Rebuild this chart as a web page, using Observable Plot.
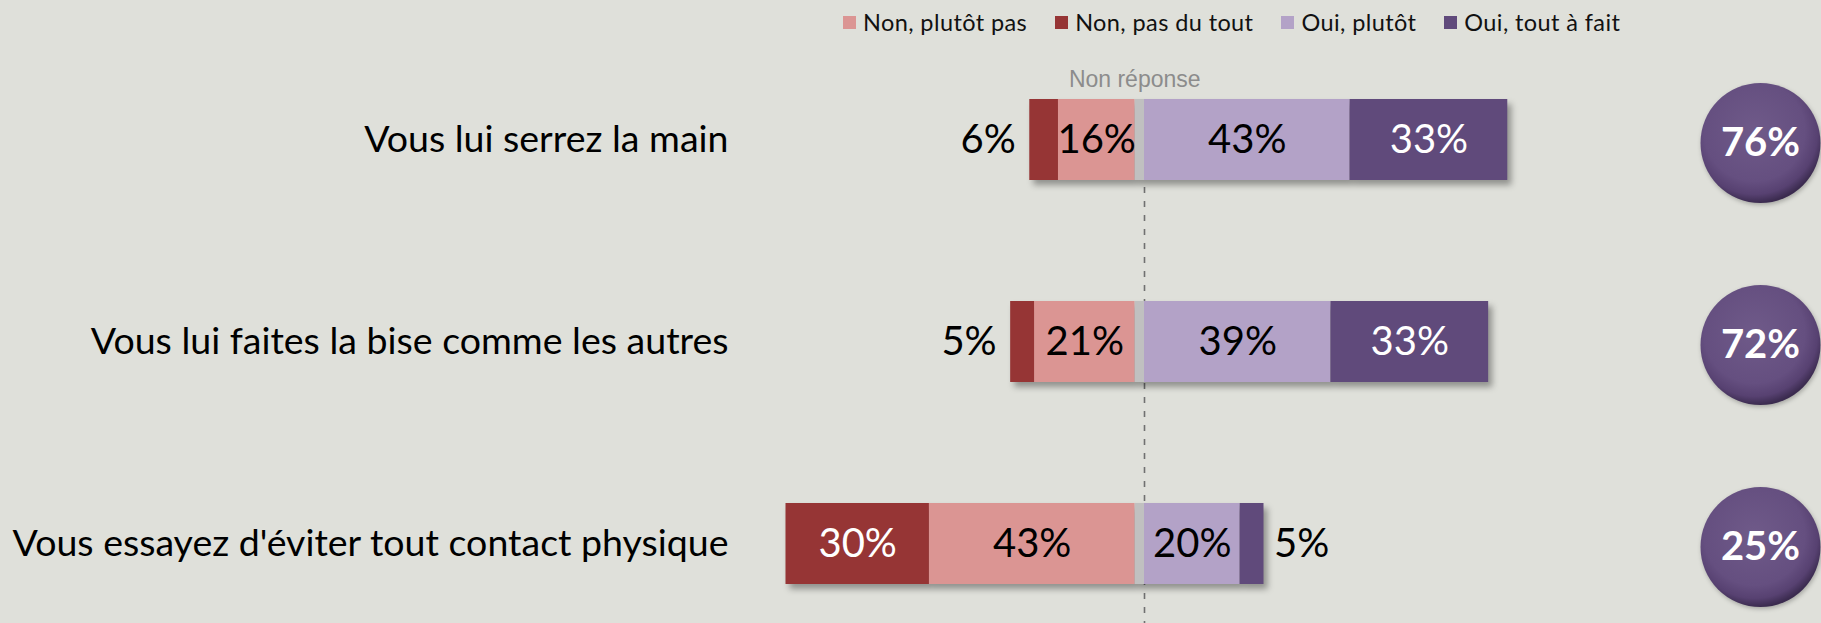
<!DOCTYPE html>
<html>
<head>
<meta charset="utf-8">
<script src="https://cdn.jsdelivr.net/npm/d3@7"></script>
<script src="https://cdn.jsdelivr.net/npm/@observablehq/plot@0.6"></script>
<style>
  html, body { margin: 0; padding: 0; background: #dfe0da; }
  #wrap { width: 1821px; height: 623px; overflow: hidden; background: #dfe0da; }
  #legend { height: 44px; display: flex; align-items: center; padding-left: 843px; box-sizing: border-box;
            font-family: Lato, "Open Sans", sans-serif; font-size: 23.5px; letter-spacing: 0.4px; color: #111; }
  #legend .item { display: flex; align-items: center; margin-right: 28px; }
  #legend .sw { width: 13px; height: 13px; margin-right: 7px; display: inline-block; }
  svg g[aria-label="bar"] { filter: drop-shadow(4px 5px 3px rgba(0,0,0,0.35)); }
  svg g[aria-label="dot"] { filter: drop-shadow(1px 2px 2px rgba(0,0,0,0.25)); }
</style>
</head>
<body>
<div id="wrap">
  <div id="legend"></div>
  <div id="chart"></div>
</div>
<script>
// ---- data ----
const questions = [
  "Vous lui serrez la main",
  "Vous lui faites la bise comme les autres",
  "Vous essayez d'éviter tout contact physique"
];
const nonPasDuTout = [6, 5, 30];
const nonPlutotPas = [16, 21, 43];
const nonReponse   = [2, 2, 2];
const ouiPlutot    = [43, 39, 20];
const ouiToutAFait = [33, 33, 5];
const totalOui     = [76, 72, 25];

const legendLabels = ["Non, plutôt pas", "Non, pas du tout", "Oui, plutôt", "Oui, tout à fait"];
const answerDomain = ["Non, pas du tout", "Non, plutôt pas", "Non réponse", "Oui, plutôt", "Oui, tout à fait"];
const answerColors = ["#963535", "#db9593", "#c0c0c0", "#b3a2c7", "#604a7b"];
const darkAnswers = ["Non, pas du tout", "Oui, tout à fait"];

// ---- build stacked (diverging) table ----
const segments = [];
questions.forEach((q, i) => {
  let left = 0;
  [["Non réponse", nonReponse[i]], ["Non, plutôt pas", nonPlutotPas[i]], ["Non, pas du tout", nonPasDuTout[i]]]
    .forEach(([a, v]) => { segments.push({question: q, answer: a, value: v, x1: left - v, x2: left, side: "neg"}); left -= v; });
  let right = 0;
  [["Oui, plutôt", ouiPlutot[i]], ["Oui, tout à fait", ouiToutAFait[i]]]
    .forEach(([a, v]) => { segments.push({question: q, answer: a, value: v, x1: right, x2: right + v, side: "pos"}); right += v; });
});
const labelled = segments.filter(d => d.answer !== "Non réponse");
const inside = labelled.filter(d => d.value >= 10);
const outsideNeg = labelled.filter(d => d.value < 10 && d.side === "neg");
const outsidePos = labelled.filter(d => d.value < 10 && d.side === "pos");
const totals = questions.map((q, i) => ({question: q, total: totalOui[i]}));
const nonRep = segments.filter(d => d.answer === "Non réponse" && d.question === questions[0]);

// ---- legend ----
const colorOf = a => answerColors[answerDomain.indexOf(a)];
const legend = d3.select("#legend");
legendLabels.forEach(l => {
  const it = legend.append("div").attr("class", "item");
  it.append("span").attr("class", "sw").style("background", colorOf(l));
  it.append("span").text(l);
});

// ---- chart ----
const font = "Lato, 'Open Sans', sans-serif";
const chart = Plot.plot({
  width: 1821,
  height: 579,
  marginTop: 54.6,
  marginBottom: 39.6,
  marginLeft: 740,
  marginRight: 61,
  style: {background: "transparent", overflow: "visible"},
  x: {domain: [-80, 80], range: [761.6, 1526.4], axis: null},
  y: {domain: questions, paddingInner: 0.6, paddingOuter: 0, label: null, axis: null},
  color: {domain: answerDomain, range: answerColors},
  marks: [
    Plot.ruleX([0], {stroke: "#707070", strokeWidth: 1.6, strokeDasharray: "6,8", insetTop: 88.4, insetBottom: -39.6}),
    Plot.barX(segments, {y: "question", x1: "x1", x2: "x2", fill: "answer"}),
    Plot.text(inside, {
      y: "question", x: d => (d.x1 + d.x2) / 2, text: d => d.value + "%",
      fill: d => darkAnswers.includes(d.answer) ? "#ffffff" : "#000000",
      fontSize: 40, fontFamily: font
    }),
    Plot.text(outsideNeg, {
      y: "question", x: "x1", text: d => d.value + "%", textAnchor: "end", dx: -14,
      fill: "#000", fontSize: 40, fontFamily: font
    }),
    Plot.text(outsidePos, {
      y: "question", x: "x2", text: d => d.value + "%", textAnchor: "start", dx: 10,
      fill: "#000", fontSize: 40, fontFamily: font
    }),
    Plot.text(nonRep, {
      y: "question", x: d => (d.x1 + d.x2) / 2, text: d => d.answer, lineAnchor: "bottom", dy: -53, dx: -5,
      fill: "#8c8c8c", fontSize: 23, fontFamily: "'Liberation Sans', Arial, sans-serif"
    }),
    Plot.axisY({anchor: "left", tickSize: 0, tickPadding: 12, fontSize: 37.5, fill: "#000", fontFamily: font, label: null}),
    Plot.dot(totals, {y: "question", frameAnchor: "right", r: 60, fill: "url(#bubble)", dy: 3}),
    Plot.text(totals, {
      y: "question", frameAnchor: "right", textAnchor: "middle", text: d => d.total + "%", dy: 3,
      fill: "#ffffff", fontWeight: "bold", fontSize: 40, fontFamily: font
    })
  ]
});

// gradient definition for the 3D bubbles
const defs = d3.select(chart).insert("defs", ":first-child");
const g = defs.append("radialGradient").attr("id", "bubble").attr("cx", "45%").attr("cy", "40%").attr("r", "60%");
[["0%", "#6f5a89"], ["70%", "#654f80"], ["88%", "#574171"], ["100%", "#3b2b4f"]]
  .forEach(([o, c]) => g.append("stop").attr("offset", o).attr("stop-color", c));

document.getElementById("chart").appendChild(chart);
</script>
</body>
</html>
